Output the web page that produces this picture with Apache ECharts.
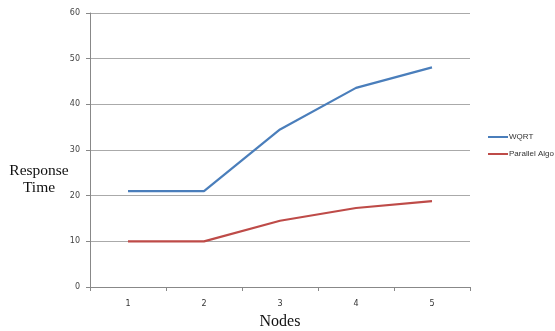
<!DOCTYPE html>
<html><head><meta charset="utf-8">
<script src="https://cdn.jsdelivr.net/npm/echarts@6/dist/echarts.min.js"></script>
<style>html,body{margin:0;padding:0;background:#fff}#c{width:555px;height:331px}</style>
</head><body><div id="c"></div>
<script>
const categories = ['1','2','3','4','5'];
const wqrt = [21, 21, 34.5, 43.6, 48.1];
const parallelAlgo = [10, 10, 14.5, 17.3, 18.8];
const seriesNames = ['WQRT', 'Parallel Algo'];

const chart = echarts.init(document.getElementById('c'), null, {renderer:'canvas'});
chart.setOption({
  animation: false,
  backgroundColor: '#fff',
  grid: {left: 90, right: 85, top: 13, bottom: 44, outerBoundsMode: 'none', containLabel: false},
  legend: {
    orient: 'vertical', left: 483, top: 128, itemGap: 9,
    itemWidth: 20, itemHeight: 8,
    textStyle: {fontFamily: 'Liberation Sans', fontSize: 8, color: '#333', padding:[0,0,0,-4]},
    data: [
      {name: seriesNames[0], icon: 'path://M0,0 L20,0 L20,2 L0,2 Z'},
      {name: seriesNames[1], icon: 'path://M0,0 L20,0 L20,2 L0,2 Z'}
    ]
  },
  xAxis: {
    type: 'category', data: categories, boundaryGap: true,
    name: 'Nodes', nameLocation: 'middle', nameGap: 27, nameMoveOverlap: false,
    nameTextStyle: {fontFamily: 'Liberation Serif', fontSize: 16, color: '#111'},
    axisLine: {lineStyle: {color: '#888', width: 1}},
    axisTick: {show: true, length: 4, lineStyle: {color: '#888'}},
    axisLabel: {fontFamily: 'DejaVu Sans', fontSize: 8, color: '#333', margin: 13}
  },
  yAxis: {
    type: 'value', min: 0, max: 60, interval: 10,
    name: 'Response\nTime', nameLocation: 'middle', nameRotate: 0, nameGap: 51, nameMoveOverlap: false,
    nameTextStyle: {fontFamily: 'Liberation Serif', fontSize: 15.5, color: '#111', lineHeight: 17, align:'center', verticalAlign: 'top', padding:[12,0,0,0]},
    axisLine: {show: true, lineStyle: {color: '#888', width: 1}},
    axisTick: {show: true, length: 4, lineStyle: {color: '#888'}},
    axisLabel: {fontFamily: 'DejaVu Sans', fontSize: 8, color: '#444', margin: 10},
    splitLine: {lineStyle: {color: '#aaa', width: 1}}
  },
  series: [
    {name: seriesNames[0], type: 'line', data: wqrt, symbol: 'none',
     lineStyle: {color: '#4a7ebb', width: 2.2}, itemStyle: {color: '#4a7ebb'}},
    {name: seriesNames[1], type: 'line', data: parallelAlgo, symbol: 'none',
     lineStyle: {color: '#be4b48', width: 2.2}, itemStyle: {color: '#be4b48'}}
  ]
});
</script></body></html>
